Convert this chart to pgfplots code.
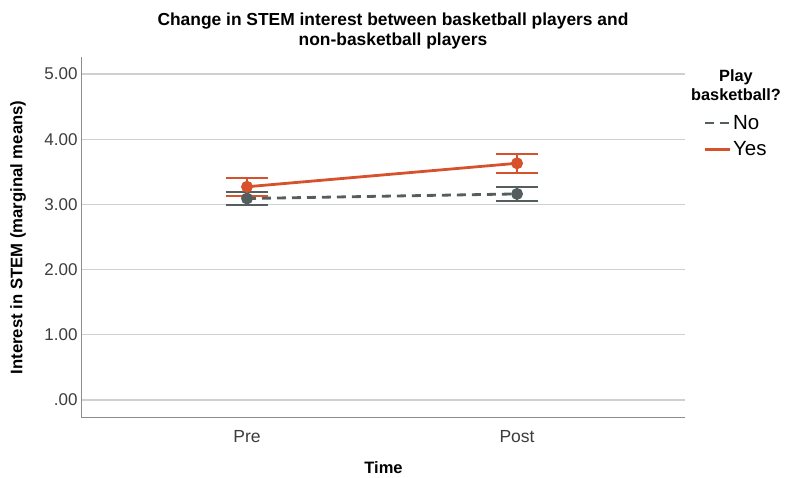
\documentclass[border=0pt]{standalone}
\usepackage{pgfplots}
\pgfplotsset{compat=1.18}
\usepackage{fontspec}
\setmainfont{Liberation Sans}
\definecolor{yescol}{RGB}{214,82,44}
\definecolor{nocol}{RGB}{84,94,94}
\definecolor{gridc}{RGB}{208,208,208}
\definecolor{axc}{RGB}{140,140,140}
\definecolor{txt}{RGB}{60,60,60}
\begin{document}
\begin{tikzpicture}
\useasboundingbox (-82pt,-60pt) rectangle (707pt,418pt);
\begin{axis}[
  scale only axis,
  width=603pt, height=361pt,
  xmin=-0.611, xmax=1.622,
  ymin=-0.276, ymax=5.26,
  axis x line*=bottom, axis y line*=left,
  axis line style={axc, line width=1pt},
  xtick={0,1}, xticklabels={Pre,Post},
  ytick={0,1,2,3,4,5}, yticklabels={.00,1.00,2.00,3.00,4.00,5.00},
  major tick length=0pt,
  ymajorgrids, grid style={gridc, line width=1.2pt},
  xticklabel style={font=\fontsize{17.5}{20}\selectfont, text=txt, yshift=-9pt},
  yticklabel style={font=\fontsize{17}{20}\selectfont, text=txt, xshift=-1pt},
  xlabel={\textbf{Time}},
  xlabel style={font=\fontsize{16.5}{20}\selectfont, at={(axis description cs:0.5,-0.1385)}, anchor=center},
  ylabel={\textbf{Interest in STEM (marginal means)}},
  ylabel style={font=\fontsize{16.7}{20}\selectfont, at={(axis description cs:-0.106,0.5)}, anchor=center},
  legend style={at={(rel axis cs:1.03,0.845)}, anchor=north west, draw=none, fill=none,
    font=\fontsize{20.5}{24}\selectfont, row sep=7pt, inner sep=0pt},
  legend cell align=left,
  legend image code/.code={\draw[#1, mark=none] (0pt,0pt) -- (25pt,0pt);},
  clip=false,
]
\addplot[nocol, line width=2.8pt, dash pattern=on 9pt off 6pt,
  mark=*, mark size=4.5pt, mark options={solid, fill=nocol, draw=nocol},
  error bars/.cd, y dir=both, y explicit,
  error bar style={line width=1.5pt, solid, nocol},
  error mark options={rotate=90, line width=2pt, mark size=21pt, solid, nocol}]
  coordinates {(0,3.09) +- (0,0.095) (1,3.16) +- (0,0.105)};
\addlegendentry{No}
\addplot[yescol, line width=2.8pt,
  mark=*, mark size=4.5pt, mark options={fill=yescol, draw=yescol},
  error bars/.cd, y dir=both, y explicit,
  error bar style={line width=1.5pt, yescol},
  error mark options={rotate=90, line width=2pt, mark size=21pt, yescol}]
  coordinates {(0,3.27) +- (0,0.14) (1,3.63) +- (0,0.145)};
\addlegendentry{Yes}
\end{axis}
\node[align=center, font=\fontsize{17.4}{20}\selectfont\bfseries] at (311pt,387pt)
  {Change in STEM interest between basketball players and\\non-basketball players};
\node[align=center, font=\fontsize{16.3}{19}\selectfont\bfseries] at (654pt,333pt)
  {Play\\basketball?};
\end{tikzpicture}
\end{document}
